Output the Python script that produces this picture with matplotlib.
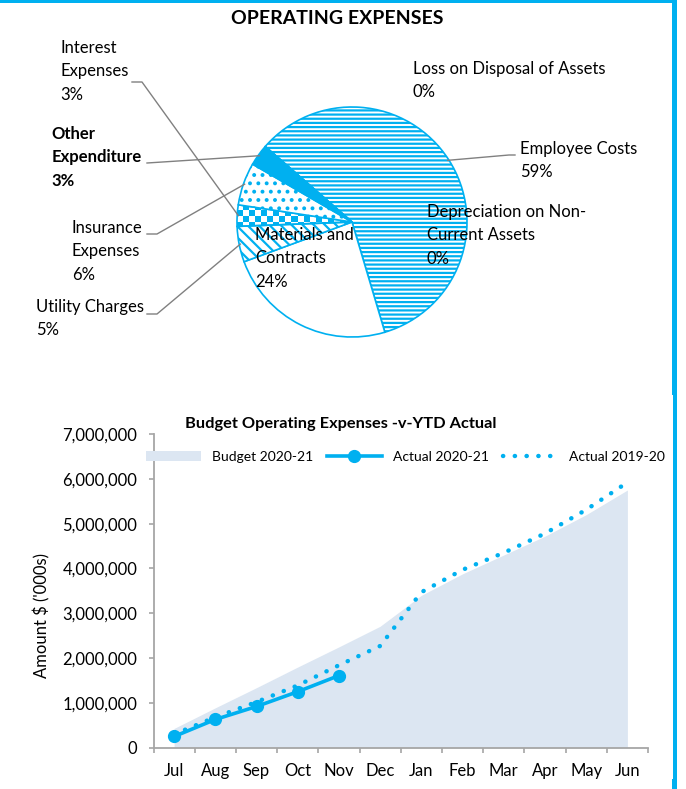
import numpy as np
import matplotlib
matplotlib.use("Agg")
import matplotlib.pyplot as plt
from matplotlib.colors import ListedColormap
from matplotlib.patches import Patch, Rectangle
from matplotlib.lines import Line2D
from matplotlib.ticker import FuncFormatter, MultipleLocator

plt.rcParams["font.family"] = ["Lato", "DejaVu Sans"]
plt.rcParams["hatch.linewidth"] = 1.6

BLUE = "#00B0F0"
GREY = "#808080"
AREA = "#DCE6F2"

# ---- pie data ----
pie_names = ["Employee Costs", "Materials and\nContracts", "Utility Charges",
             "Interest\nExpenses", "Insurance\nExpenses", "Other\nExpenditure",
             "Loss on Disposal of Assets", "Depreciation on Non-\nCurrent Assets"]
pie_pct = [59, 24, 5, 3, 6, 3, 0, 0]

# ---- line chart data ----
months = ["Jul", "Aug", "Sep", "Oct", "Nov", "Dec",
          "Jan", "Feb", "Mar", "Apr", "May", "Jun"]
budget_2021 = [430000, 890000, 1340000, 1800000, 2250000, 2710000,
               3400000, 3880000, 4300000, 4720000, 5200000, 5750000]
actual_2021 = [250000, 630000, 920000, 1250000, 1610000]
actual_1920 = [300000, 680000, 1020000, 1390000, 1840000, 2270000,
               3470000, 3970000, 4350000, 4780000, 5310000, 5920000]

W, H = 686, 789
fig = plt.figure(figsize=(W / 100, H / 100), dpi=100)


def frac(x0, y0, x1, y1):
    # pixel box (top-left origin) -> figure fraction rect
    return [x0 / W, 1 - y1 / H, (x1 - x0) / W, (y1 - y0) / H]


# pie
cx, cy, r = 352, 222, 115
ax_pie = fig.add_axes(frac(cx - r, cy - r, cx + r, cy + r))
wedges, _ = ax_pie.pie(pie_pct, startangle=139, counterclock=False, radius=1,
                       colors=["white"] * len(pie_pct),
                       wedgeprops=dict(edgecolor=BLUE, linewidth=1.2))
wedges[0].set_hatch("----")
wedges[2].set_hatch("\\\\\\")
wedges[4].set_hatch("..")
wedges[5].set_facecolor(BLUE)

# checker fill for interest wedge
n = 38
board = np.add.outer(np.arange(n), np.arange(n)) % 2
wedges[3].set_facecolor("none")
im = ax_pie.imshow(board, extent=(-1, 1, -1, 1), cmap=ListedColormap(["white", BLUE]),
                   interpolation="nearest", zorder=0.5)
im.set_clip_path(wedges[3])
ax_pie.set_xlim(-1, 1)
ax_pie.set_ylim(-1, 1)
ax_pie.axis("off")

# line chart
dots = (0, (0.05, 2.6))
ax = fig.add_axes(frac(153.5, 434, 648, 747.7))
x = np.arange(len(months))
ax.fill_between(x, budget_2021, color=AREA, lw=0, zorder=1)
ax.plot(x, actual_1920, color=BLUE, lw=3.2, linestyle=dots,
        dash_capstyle="round", zorder=2)
ax.plot(x[:len(actual_2021)], actual_2021, color=BLUE, lw=2.6, marker="o",
        markersize=8.5, zorder=3)
ax.set_xlim(-0.5, 11.5)
ax.set_ylim(0, 7000000)
ax.yaxis.set_major_locator(MultipleLocator(1000000))
ax.yaxis.set_major_formatter(FuncFormatter(lambda v, p: f"{int(v):,}"))
ax.set_xticks(x)
ax.set_xticklabels(months)
ax.set_xticks(np.arange(-0.5, 12, 1), minor=True)
for s in ["top", "right"]:
    ax.spines[s].set_visible(False)
for s in ["left", "bottom"]:
    ax.spines[s].set_color("#A6A6A6")
    ax.spines[s].set_linewidth(1.3)
ax.tick_params(axis="y", length=3.6, width=1.2, color="#A6A6A6", pad=8, labelsize=12)
ax.tick_params(axis="x", which="major", length=0, pad=11, labelsize=12)
ax.tick_params(axis="x", which="minor", length=3.6, width=1.2, color="#A6A6A6")
ax.set_facecolor("none")

handles = [Patch(facecolor=AREA, edgecolor="none"),
           Line2D([], [], color=BLUE, lw=2.6, marker="o", markersize=8.5),
           Line2D([], [], color=BLUE, lw=3.2, linestyle=dots, dash_capstyle="round")]
fig.legend(handles, ["Budget 2020-21", "Actual 2020-21", "Actual 2019-20"],
           loc="center", bbox_to_anchor=(405 / W, 1 - 457 / H), ncol=3, frameon=False,
           fontsize=10, handlelength=4.0, columnspacing=1.0, handletextpad=0.75)

# overlay in pixel space for labels, leader lines, frame
ov = fig.add_axes([0, 0, 1, 1])
ov.set_xlim(0, W)
ov.set_ylim(H, 0)
ov.axis("off")
ov.patch.set_alpha(0)

ov.text(337, 18, "OPERATING EXPENSES", ha="center", va="center", fontsize=14, fontweight="bold")
ov.text(340.5, 424, "Budget Operating Expenses -v-YTD Actual", ha="center", va="center",
        fontsize=11.8, fontweight="bold")
ov.text(41.7, 616, "Amount $ ('000s)", rotation=90, ha="center", va="center", fontsize=12)


def rim(i, k=0.99):
    t = np.deg2rad((wedges[i].theta1 + wedges[i].theta2) / 2)
    return cx + r * k * np.cos(t), cy - r * k * np.sin(t)


txt = dict(fontsize=12, va="top", ha="left", linespacing=1.56)
ov.text(412.7, 61, pie_names[6] + "\n0%", **txt)
ov.text(520, 141, pie_names[0] + "\n59%", **txt)
ov.text(426.7, 204, pie_names[7] + "\n0%", **txt)
ov.text(255, 227, pie_names[1] + "\n24%", **txt)
ov.text(60.7, 40, pie_names[3] + "\n3%", **txt)
ov.text(51.7, 126, pie_names[5] + "\n3%", fontweight="bold", **txt)
ov.text(71.7, 220, pie_names[4] + "\n6%", **txt)
ov.text(36, 299, pie_names[2] + "\n5%", **txt)

leaders = [
    (0, [(515, 155), (509, 155)]),
    (3, [(132, 82), (142, 82)]),
    (5, [(147, 163)]),
    (4, [(147, 234), (157, 234)]),
    (2, [(147, 314), (157, 314)]),
]
for i, pts in leaders:
    px, py = rim(i)
    xs = [p[0] for p in pts] + [px]
    ys = [p[1] for p in pts] + [py]
    ov.plot(xs, ys, color=GREY, lw=1)

# page frame edges
ov.add_patch(Rectangle((0, 0), 676.7, 2.7, color=BLUE, lw=0))
ov.add_patch(Rectangle((672, 0), 4.7, 395, color=BLUE, lw=0))
ov.add_patch(Rectangle((673.3, 395), 3.4, 394, color=BLUE, lw=0))
ov.add_patch(Rectangle((672, 779), 4.7, 10, color=BLUE, lw=0))

fig.savefig("out.png", dpi=100)
